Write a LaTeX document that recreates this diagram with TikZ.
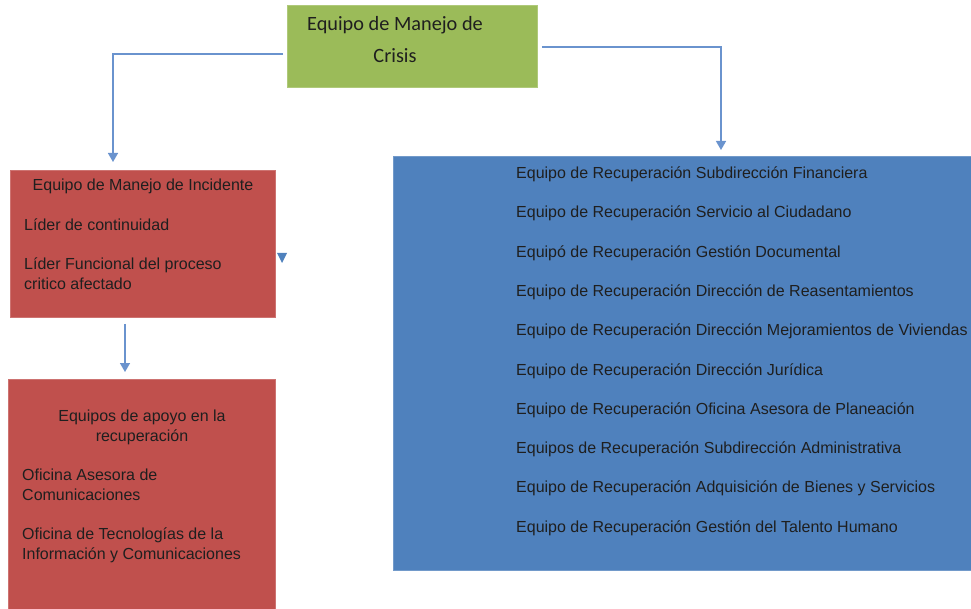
\documentclass[tikz,border=0pt]{standalone}
\usepackage{fontspec}
\setmainfont{Liberation Sans}
\newfontfamily\calibri{Carlito}
\usetikzlibrary{arrows.meta}
\definecolor{verde}{HTML}{9BBB59}
\definecolor{rojo}{HTML}{C0504D}
\definecolor{azul}{HTML}{4F81BD}
\definecolor{linea}{HTML}{6A93CE}

\begin{document}
\begin{tikzpicture}[x=1pt, y=-1pt,
    caja/.style={draw=#1!80!white, fill=#1, line width=.8pt, inner sep=0pt, anchor=north west},
    flecha/.style={-{Triangle[width=10pt,length=9pt]}, draw=linea, line width=1.4pt},
    texto/.style={font=\fontsize{16}{20}\selectfont, text=black!88, inner sep=0pt, align=left}]
                \useasboundingbox (0,0) rectangle (971,609);
                \node[caja=verde, minimum width=250pt, minimum height=82pt] (crisis) at (287,5) {};
                \node[caja=rojo, minimum width=265pt, minimum height=147pt] (incidente) at (10,170) {};
                \node[caja=rojo, minimum width=267pt, minimum height=232pt] (apoyo) at (8,379) {};
                \node[caja=azul, minimum width=578pt, minimum height=414pt] (recuperacion) at (393,156) {};
                % textos de las cajas (base = ultima linea)
                \node[font=\calibri\fontsize{20.3}{32}\selectfont, text=black!88, align=center, anchor=base, inner sep=0pt] (crisis-t) at (395,63) {Equipo de Manejo de\\Crisis};
                \node[texto, anchor=base] (incidente-t) at (143,191) {Equipo de Manejo de Incidente};
                \node[texto, anchor=base west] (lideres) at (24,290) {Líder de continuidad\\[19pt]Líder Funcional del proceso\\critico afectado};
                \node[texto, align=center, anchor=base] (apoyo-t) at (142,441) {Equipos de apoyo en la\\recuperación};
                \node[texto, anchor=base west] (oficinas) at (22,559) {Oficina Asesora de\\Comunicaciones\\[19pt]Oficina de Tecnologías de la\\Información y Comunicaciones};
                \foreach \nombre [count=\i from 0] in {Equipo de Recuperación Subdirección Financiera,
                        Equipo de Recuperación Servicio al Ciudadano,
                        Equipó de Recuperación Gestión Documental,
                        Equipo de Recuperación Dirección de Reasentamientos,
                        Equipo de Recuperación Dirección Mejoramientos de Viviendas,
                        Equipo de Recuperación Dirección Jurídica,
                        Equipo de Recuperación Oficina Asesora de Planeación,
                        Equipos de Recuperación Subdirección Administrativa,
                        Equipo de Recuperación Adquisición de Bienes y Servicios,
                        Equipo de Recuperación Gestión del Talento Humano}
                    \node[texto, anchor=base west] (equipo-\i) at (516,178.5+39.3*\i) {\nombre};
                % conectores
                \draw[flecha, shorten <=4pt, shorten >=8pt] (crisis.west |- 0,54) -| (incidente.north -| 113,0);
                \draw[flecha, shorten <=4pt, shorten >=6pt] (crisis.east |- 0,47) -| (recuperacion.north -| 721,0);
                \draw[flecha, shorten <=6pt, shorten >=7pt] (incidente.south -| 125,0) -- (apoyo.north -| 125,0);
                \fill[azul] (277,253) -- (287,253) -- (282,263) -- cycle;
            \end{tikzpicture}
\end{document}
